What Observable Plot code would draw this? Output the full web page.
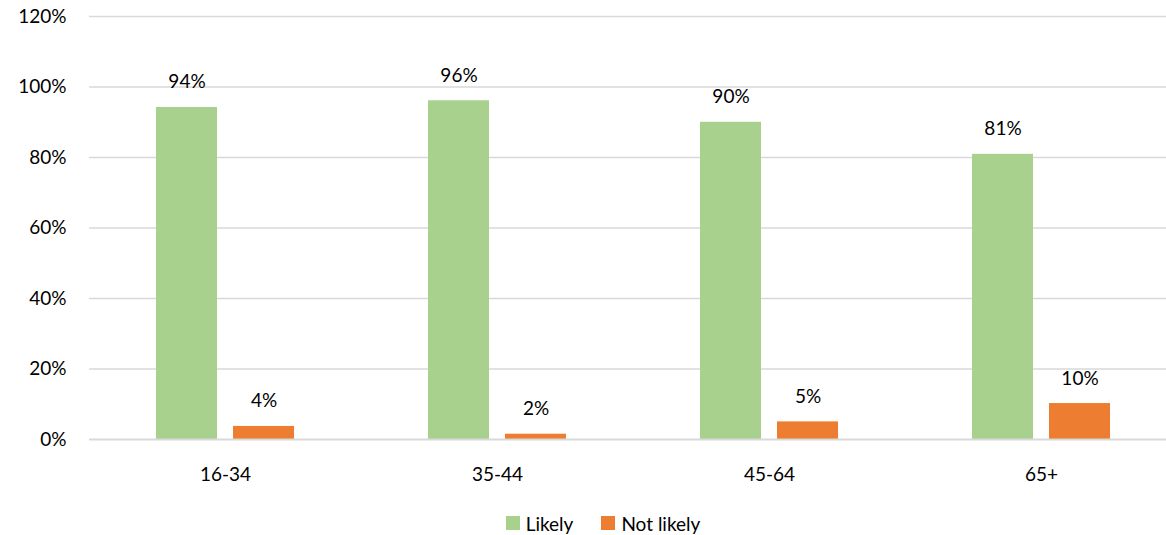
<!DOCTYPE html>
<html>
<head>
<meta charset="utf-8">
<script src="https://cdn.jsdelivr.net/npm/d3@7"></script>
<script src="https://cdn.jsdelivr.net/npm/@observablehq/plot@0.6"></script>
<style>
  html, body { margin: 0; padding: 0; background: #fff; }
  body { width: 1166px; height: 535px; overflow: hidden; position: relative; font-family: Lato, "Open Sans", sans-serif; }
  #chart { width: 1178px; }
  #legend { position: absolute; left: 0; top: 511px; width: 1206px; height: 24px; display: flex; justify-content: center; align-items: center; gap: 28px; font-size: 19px; color: #000; }
  #legend span.item { display: inline-flex; align-items: center; gap: 6px; }
  #legend span.sw { width: 14px; height: 14px; display: inline-block; }
</style>
</head>
<body>
<div id="chart"></div>
<div id="legend"></div>
<script>
const ages = ["16-34", "35-44", "45-64", "65+"];
const series = ["Likely", "Not likely"];
const likely = [94.2, 96.1, 90.0, 80.9];
const notLikely = [3.7, 1.5, 5.0, 10.2];
const likelyLabels = ["94%", "96%", "90%", "81%"];
const notLikelyLabels = ["4%", "2%", "5%", "10%"];
const colors = ["#A9D18E", "#ED7D31"];
const yTicks = [0, 20, 40, 60, 80, 100, 120];

const rows = [];
ages.forEach((a, i) => {
  rows.push({age: a, series: series[0], value: likely[i], label: likelyLabels[i]});
  rows.push({age: a, series: series[1], value: notLikely[i], label: notLikelyLabels[i]});
});

const chart = Plot.plot({
  width: 1178,
  height: 490,
  marginLeft: 89,
  marginRight: 1,
  marginTop: 16,
  marginBottom: 51,
  style: {fontFamily: "Lato, 'Open Sans', sans-serif", fontSize: "19px", color: "#000", background: "#fff"},
  fx: {domain: ages, padding: 0, label: null, axis: "bottom", tickSize: 0, tickPadding: 28},
  x: {domain: series, paddingInner: 0.208, paddingOuter: 0.87, axis: null},
  y: {domain: [0, 120], ticks: yTicks, tickFormat: d => d + "%", label: null, tickSize: 0, tickPadding: 23},
  color: {domain: series, range: colors},
  marks: [
    Plot.ruleY(yTicks.filter(t => t > 0), {stroke: "#d9d9d9", strokeWidth: 1.3}),
    Plot.barY(rows, {fx: "age", x: "series", y: "value", fill: "series"}),
    Plot.ruleY([0], {stroke: "#d9d9d9", strokeWidth: 2}),
    Plot.text(rows, {fx: "age", x: "series", y: "value", text: "label", lineAnchor: "bottom", dy: -19, fill: "#000", fontSize: 19})
  ]
});
document.getElementById("chart").appendChild(chart);

const legend = document.getElementById("legend");
series.forEach((s, i) => {
  const item = document.createElement("span");
  item.className = "item";
  const sw = document.createElement("span");
  sw.className = "sw";
  sw.style.background = colors[i];
  item.appendChild(sw);
  item.appendChild(document.createTextNode(s));
  legend.appendChild(item);
});
</script>
</body>
</html>
